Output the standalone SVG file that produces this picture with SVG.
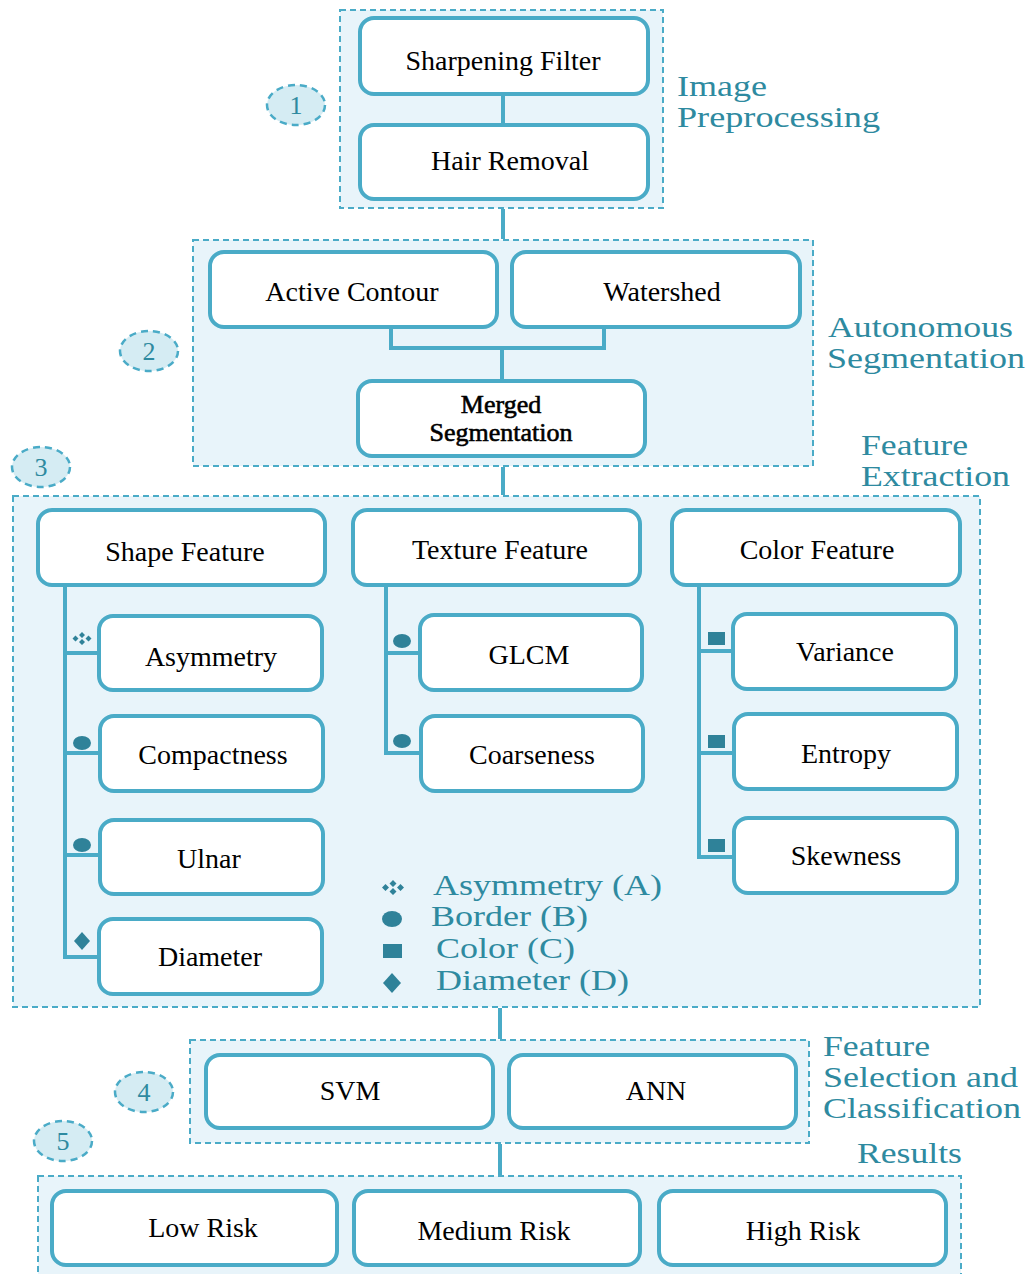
<svg xmlns="http://www.w3.org/2000/svg" width="1031" height="1274" viewBox="0 0 1031 1274">
<style>
.grp{fill:#e8f4fa;stroke:#4aabc7;stroke-width:2;stroke-dasharray:6 4}
.box{fill:#fff;stroke:#4aabc7;stroke-width:4}
.t{font-family:"Liberation Serif","Times New Roman",serif;font-size:28px;fill:#000;text-anchor:middle}
.lbl{font-family:"Liberation Serif","Times New Roman",serif;font-size:29px;fill:#2e8aa0}
.num{font-family:"Liberation Serif","Times New Roman",serif;font-size:26px;fill:#2e8aa0;text-anchor:middle}
.circ{fill:#d5ecf3;stroke:#4aabc7;stroke-width:2.5;stroke-dasharray:7 5}
.ln{fill:none;stroke:#4aabc7;stroke-width:4}
.ic{fill:#2f8299}
.semi{font-size:26px;stroke:#000;stroke-width:0.6}
</style>
<rect width="1031" height="1274" fill="#fff"/>

<!-- groups -->
<g id="group1"><rect class="grp" x="340" y="10" width="323" height="198"/>
<text class="lbl" x="677" y="96" textLength="90" lengthAdjust="spacingAndGlyphs">Image</text>
<text class="lbl" x="677" y="127" textLength="203" lengthAdjust="spacingAndGlyphs">Preprocessing</text></g>
<g id="group2"><rect class="grp" x="193" y="240" width="620" height="226"/>
<text class="lbl" x="828" y="337" textLength="185" lengthAdjust="spacingAndGlyphs">Autonomous</text>
<text class="lbl" x="827" y="368" textLength="198" lengthAdjust="spacingAndGlyphs">Segmentation</text></g>
<g id="group3"><rect class="grp" x="13" y="496" width="967" height="511"/>
<text class="lbl" x="861" y="455" textLength="107" lengthAdjust="spacingAndGlyphs">Feature</text>
<text class="lbl" x="861" y="486" textLength="149" lengthAdjust="spacingAndGlyphs">Extraction</text></g>
<g id="group4"><rect class="grp" x="190" y="1040" width="619" height="103"/>
<text class="lbl" x="823" y="1056" textLength="107" lengthAdjust="spacingAndGlyphs">Feature</text>
<text class="lbl" x="823" y="1087" textLength="195" lengthAdjust="spacingAndGlyphs">Selection and</text>
<text class="lbl" x="823" y="1118" textLength="198" lengthAdjust="spacingAndGlyphs">Classification</text></g>
<g id="group5"><rect class="grp" x="38" y="1176" width="923" height="110"/>
<text class="lbl" x="857" y="1163" textLength="105" lengthAdjust="spacingAndGlyphs">Results</text></g>

<!-- step markers -->
<g id="step1"><ellipse class="circ" cx="296" cy="105" rx="29" ry="20"/><text class="num" x="296" y="114">1</text></g>
<g id="step2"><ellipse class="circ" cx="149" cy="351" rx="29" ry="20"/><text class="num" x="149" y="360">2</text></g>
<g id="step3"><ellipse class="circ" cx="41" cy="467" rx="29" ry="20"/><text class="num" x="41" y="476">3</text></g>
<g id="step4"><ellipse class="circ" cx="144" cy="1092" rx="29" ry="20"/><text class="num" x="144" y="1101">4</text></g>
<g id="step5"><ellipse class="circ" cx="63" cy="1141" rx="29" ry="20"/><text class="num" x="63" y="1150">5</text></g>

<!-- connectors -->
<g id="connectors">
<line class="ln" x1="503" y1="94" x2="503" y2="125"/>
<line class="ln" x1="503" y1="209" x2="503" y2="239"/>
<polyline class="ln" points="391,327 391,348 604,348 604,327"/>
<line class="ln" x1="502" y1="348" x2="502" y2="381"/>
<line class="ln" x1="503" y1="467" x2="503" y2="495"/>
<polyline class="ln" points="65,585 65,957 99,957"/>
<line class="ln" x1="65" y1="653" x2="99" y2="653"/>
<line class="ln" x1="65" y1="753" x2="100" y2="753"/>
<line class="ln" x1="65" y1="855" x2="100" y2="855"/>
<polyline class="ln" points="386,585 386,753 421,753"/>
<line class="ln" x1="386" y1="653" x2="420" y2="653"/>
<polyline class="ln" points="699,585 699,857 734,857"/>
<line class="ln" x1="699" y1="651" x2="733" y2="651"/>
<line class="ln" x1="699" y1="753" x2="734" y2="753"/>
<line class="ln" x1="500" y1="1008" x2="500" y2="1039"/>
<line class="ln" x1="500" y1="1144" x2="500" y2="1175"/>
</g>

<!-- nodes -->
<g id="sharpening"><rect class="box" x="360" y="18" width="288" height="76" rx="14"/><text class="t" x="503" y="70">Sharpening Filter</text></g>
<g id="hair"><rect class="box" x="360" y="125" width="288" height="74" rx="14"/><text class="t" x="510" y="170">Hair Removal</text></g>
<g id="active"><rect class="box" x="210" y="252" width="287" height="75" rx="14"/><text class="t" x="352" y="301">Active Contour</text></g>
<g id="watershed"><rect class="box" x="512" y="252" width="288" height="75" rx="14"/><text class="t" x="662" y="301">Watershed</text></g>
<g id="merged"><rect class="box" x="358" y="381" width="287" height="75" rx="14"/><text class="t semi" x="501" y="413">Merged</text><text class="t semi" x="501" y="441">Segmentation</text></g>

<g id="shape"><rect class="box" x="38" y="510" width="287" height="75" rx="14"/><text class="t" x="185" y="561">Shape Feature</text></g>
<g id="texture"><rect class="box" x="353" y="510" width="287" height="75" rx="14"/><text class="t" x="500" y="559">Texture Feature</text></g>
<g id="color"><rect class="box" x="672" y="510" width="288" height="75" rx="14"/><text class="t" x="817" y="559">Color Feature</text></g>

<g id="asymmetry"><rect class="box" x="99" y="616" width="223" height="74" rx="14"/><text class="t" x="211" y="666">Asymmetry</text></g>
<g id="compactness"><rect class="box" x="100" y="716" width="223" height="75" rx="14"/><text class="t" x="213" y="764">Compactness</text></g>
<g id="ulnar"><rect class="box" x="100" y="820" width="223" height="74" rx="14"/><text class="t" x="209" y="868">Ulnar</text></g>
<g id="diameter"><rect class="box" x="99" y="919" width="223" height="75" rx="14"/><text class="t" x="210" y="966">Diameter</text></g>

<g id="glcm"><rect class="box" x="420" y="615" width="222" height="75" rx="14"/><text class="t" x="529" y="664">GLCM</text></g>
<g id="coarseness"><rect class="box" x="421" y="716" width="222" height="75" rx="14"/><text class="t" x="532" y="764">Coarseness</text></g>

<g id="variance"><rect class="box" x="733" y="614" width="223" height="75" rx="14"/><text class="t" x="845" y="661">Variance</text></g>
<g id="entropy"><rect class="box" x="734" y="714" width="223" height="75" rx="14"/><text class="t" x="846" y="763">Entropy</text></g>
<g id="skewness"><rect class="box" x="734" y="818" width="223" height="75" rx="14"/><text class="t" x="846" y="865">Skewness</text></g>

<g id="svm"><rect class="box" x="206" y="1055" width="287" height="73" rx="14"/><text class="t" x="350" y="1100">SVM</text></g>
<g id="ann"><rect class="box" x="509" y="1055" width="287" height="73" rx="14"/><text class="t" x="656" y="1100">ANN</text></g>

<g id="low"><rect class="box" x="52" y="1191" width="285" height="74" rx="14"/><text class="t" x="203" y="1237">Low Risk</text></g>
<g id="medium"><rect class="box" x="354" y="1191" width="286" height="74" rx="14"/><text class="t" x="494" y="1240">Medium Risk</text></g>
<g id="high"><rect class="box" x="659" y="1191" width="287" height="74" rx="14"/><text class="t" x="803" y="1240">High Risk</text></g>

<!-- branch icons -->
<g id="icons">
<path class="ic" d="M82,632 l3,3 l-3,3 l-3,-3z M82,639 l3,3 l-3,3 l-3,-3z M75.5,635.5 l3,3 l-3,3 l-3,-3z M88.5,635.5 l3,3 l-3,3 l-3,-3z"/>
<ellipse class="ic" cx="82" cy="743" rx="9" ry="7"/>
<ellipse class="ic" cx="82" cy="845" rx="9" ry="7"/>
<path class="ic" d="M82,932 l8,9 l-8,9 l-8,-9z"/>
<ellipse class="ic" cx="402" cy="641" rx="9" ry="7"/>
<ellipse class="ic" cx="402" cy="741" rx="9" ry="7"/>
<rect class="ic" x="708" y="632" width="17" height="13"/>
<rect class="ic" x="708" y="735" width="17" height="13"/>
<rect class="ic" x="708" y="839" width="17" height="13"/>
</g>

<!-- legend -->
<g id="legend">
<path class="ic" d="M393,880 l3.5,3.5 l-3.5,3.5 l-3.5,-3.5z M393,888 l3.5,3.5 l-3.5,3.5 l-3.5,-3.5z M385.5,884 l3.5,3.5 l-3.5,3.5 l-3.5,-3.5z M400.5,884 l3.5,3.5 l-3.5,3.5 l-3.5,-3.5z"/>
<text class="lbl" x="433" y="895" textLength="229" lengthAdjust="spacingAndGlyphs">Asymmetry (A)</text>
<ellipse class="ic" cx="392" cy="919" rx="10" ry="8"/>
<text class="lbl" x="431" y="926" textLength="157" lengthAdjust="spacingAndGlyphs">Border (B)</text>
<rect class="ic" x="383" y="944" width="19" height="14"/>
<text class="lbl" x="436" y="958" textLength="139" lengthAdjust="spacingAndGlyphs">Color (C)</text>
<path class="ic" d="M392,973 l9,10 l-9,10 l-9,-10z"/>
<text class="lbl" x="436" y="990" textLength="193" lengthAdjust="spacingAndGlyphs">Diameter (D)</text>
</g>
</svg>
